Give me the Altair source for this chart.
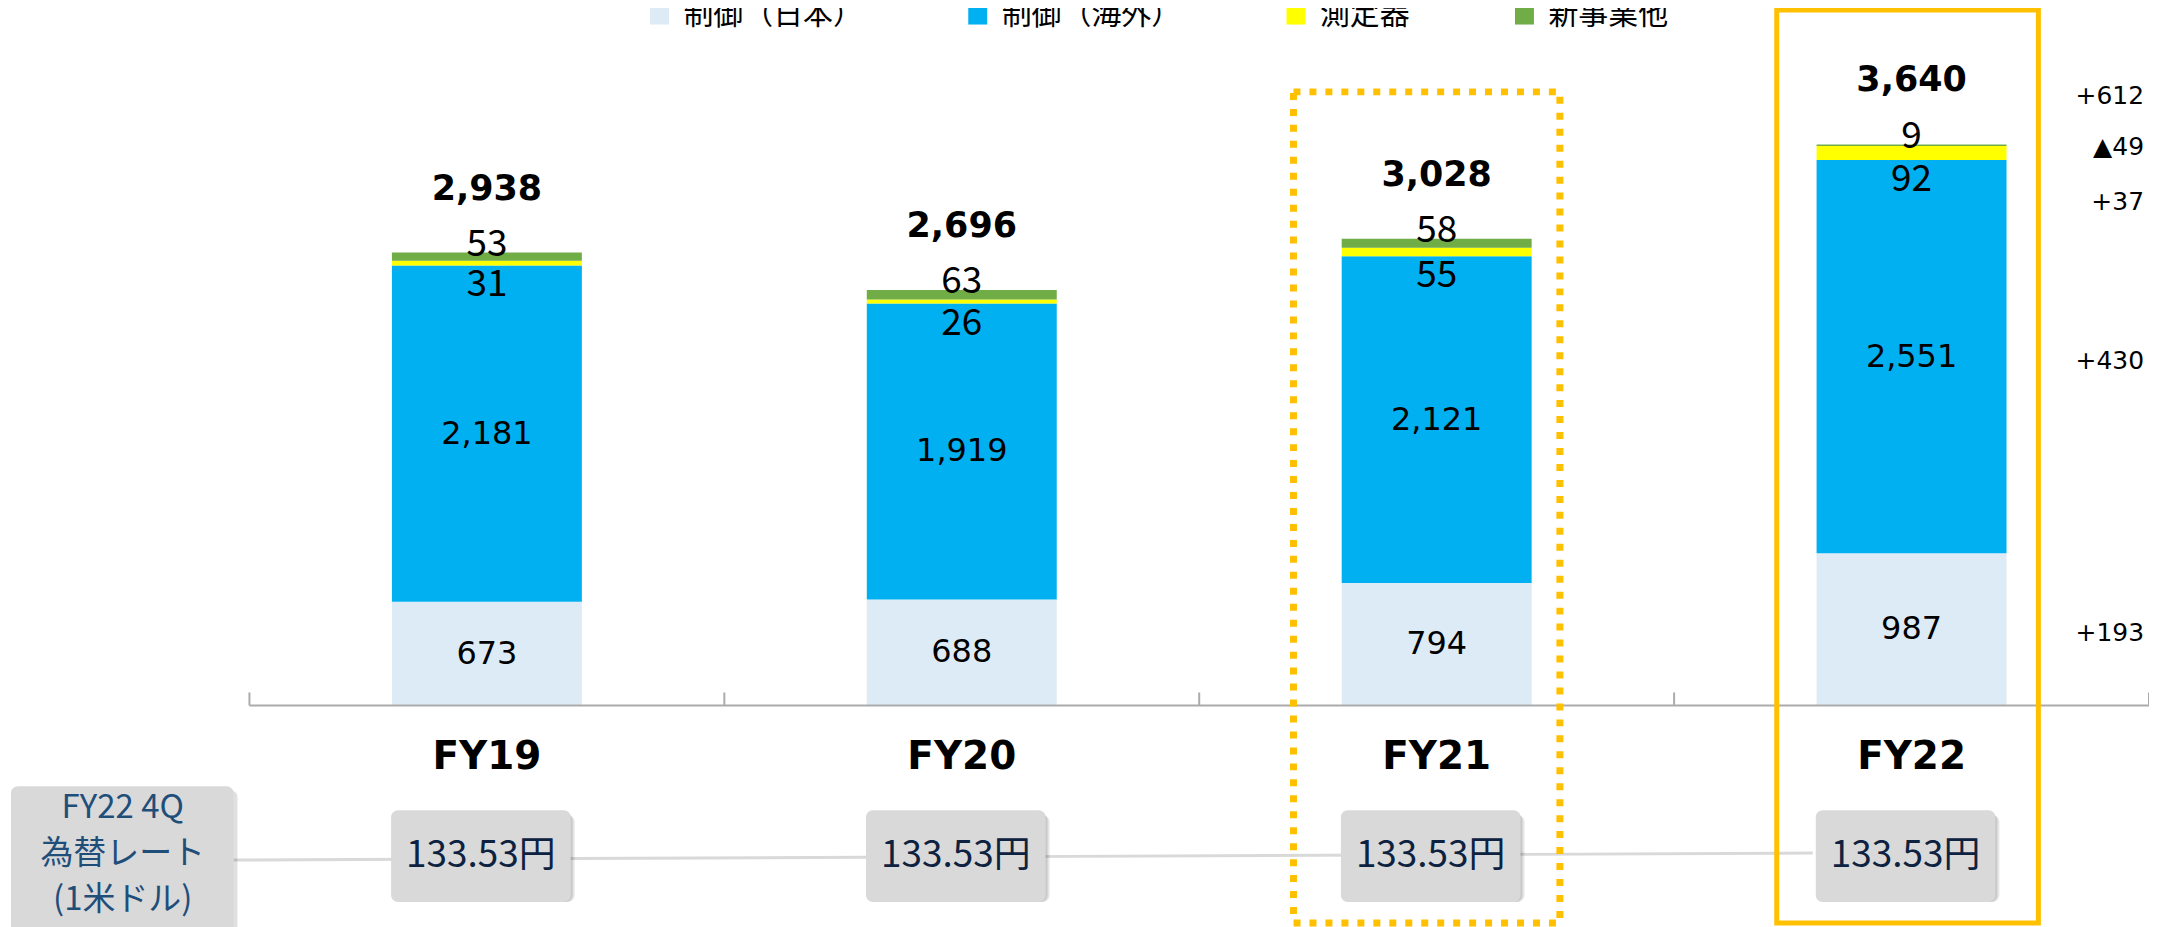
import altair as alt
import pandas as pd

# ---------------- data ----------------
years = ["FY19", "FY20", "FY21", "FY22"]
categories = ["制御（日本）", "制御（海外）", "測定器", "新事業他"]
colors = ["#DDEBF7", "#00B0F0", "#FFFF00", "#70AD47"]
ctrl_japan = [673, 688, 794, 987]
ctrl_overseas = [2181, 1919, 2121, 2551]
instruments = [31, 26, 55, 92]
new_business = [53, 63, 58, 9]
totals = [2938, 2696, 3028, 3640]
delta_labels = ["+193", "+430", "+37", "▲49", "+612"]   # 日本, 海外, 測定器, 新事業他, 合計
fx_rates = ["133.53円", "133.53円", "133.53円", "133.53円"]
fx_title = ["FY22 4Q", "為替レート", "(1米ドル)"]
highlight_years = ["FY21", "FY22"]

# ---------------- tables ----------------
series = [ctrl_japan, ctrl_overseas, instruments, new_business]
rows = []
for i, yr in enumerate(years):
    base = 0
    for j, cat in enumerate(categories):
        v = series[j][i]
        rows.append({"year": yr, "cat": cat, "idx": j, "value": v,
                     "y0": base, "y1": base + v, "mid": base + v / 2,
                     "label": f"{v:,}"})
        base += v
df = pd.DataFrame(rows)
tot_df = pd.DataFrame({"year": years, "total": totals,
                       "label": [f"{t:,}" for t in totals]})
yr_df = pd.DataFrame({"year": years, "fx": fx_rates})

last = df[df.year == "FY22"].reset_index(drop=True)
delta_df = pd.DataFrame({
    "year": ["FY22"] * 5,
    "kind": ["mid", "mid", "instr", "newb", "total"],
    "y": [last.mid[0], last.mid[1], last.y0[2], last.y1[3], totals[3]],
    "label": delta_labels,
})
hl_df = pd.DataFrame({"year": highlight_years})
one = pd.DataFrame({"a": [0]})

W, H = 1904, 618
xs = alt.Scale(type="band", domain=years, paddingInner=0, paddingOuter=0)
ys = alt.Scale(domain=[0, 4000], nice=False, zero=True)
X = alt.X("year:N", scale=xs, axis=None)

FONT_V = "DejaVu Sans"
FONT_J = "Noto Sans CJK JP"

# ---------------- bottom FX row ----------------
conn = alt.Chart(one).mark_rule(color="#D9D9D9", strokeWidth=3).encode(
    x=alt.value(-16), x2=alt.value(1567), y=alt.value(773), y2=alt.value(766))

left_shadow = alt.Chart(one).mark_rect(cornerRadius=7, color="#000000", opacity=0.12).encode(
    x=alt.value(-236), x2=alt.value(-12), y=alt.value(703), y2=alt.value(870))
left_box = alt.Chart(one).mark_rect(cornerRadius=7, color="#D9D9D9").encode(
    x=alt.value(-239), x2=alt.value(-16), y=alt.value(699), y2=alt.value(870))
left_text = alt.Chart(one).mark_text(font=FONT_J, fontSize=33, color="#1F4E79",
                                     lineHeight=46, baseline="middle").encode(
    x=alt.value(-127), y=alt.value(721), text=alt.value(fx_title))

box_sh1 = alt.Chart(yr_df).mark_bar(width=180, cornerRadius=7, color="#000000",
                                    opacity=0.10, xOffset=-2, yOffset=5).encode(
    x=X, y=alt.value(723), y2=alt.value(815))
box_sh2 = alt.Chart(yr_df).mark_bar(width=180, cornerRadius=7, color="#000000",
                                    opacity=0.12, xOffset=-4, yOffset=3).encode(
    x=X, y=alt.value(723), y2=alt.value(815))
boxes = alt.Chart(yr_df).mark_bar(width=180, cornerRadius=7, color="#D9D9D9",
                                  xOffset=-6).encode(
    x=X, y=alt.value(723), y2=alt.value(815))
box_text = alt.Chart(yr_df).mark_text(font=FONT_J, fontSize=37, color="#0D2240",
                                      baseline="middle", xOffset=-6).encode(
    x=X, y=alt.value(769), text="fx:N")

# ---------------- bars ----------------
bars = alt.Chart(df).mark_bar(width=alt.RelativeBandSize(0.4)).encode(
    x=X,
    y=alt.Y("y0:Q", scale=ys, axis=None),
    y2="y1:Q",
    color=alt.Color("cat:N", scale=alt.Scale(domain=categories, range=colors),
                    legend=alt.Legend(orient="none", legendX=396, legendY=-89,
                                      direction="horizontal", title=None,
                                      symbolType="square", symbolSize=361,
                                      symbolStrokeWidth=0,
                                      labelFont=FONT_J, labelFontSize=30,
                                      labelColor="#000000", labelOffset=9,
                                      columnPadding=100, padding=0,
                                      labelLimit=400)),
)

big_lbl = alt.Chart(df).transform_filter(
    alt.FieldOneOfPredicate(field="cat", oneOf=categories[:2])
).mark_text(font=FONT_V, fontSize=32, color="#000000", baseline="middle").encode(
    x=X, y=alt.Y("mid:Q", scale=ys), text="label:N")

instr_lbl = alt.Chart(df).transform_filter(
    alt.FieldEqualPredicate(field="cat", equal=categories[2])
).mark_text(font=FONT_J, fontSize=37, color="#000000", baseline="middle", dy=20).encode(
    x=X, y=alt.Y("y0:Q", scale=ys), text="label:N")

newb_lbl = alt.Chart(df).transform_filter(
    alt.FieldEqualPredicate(field="cat", equal=categories[3])
).mark_text(font=FONT_J, fontSize=37, color="#000000", baseline="middle", dy=-8).encode(
    x=X, y=alt.Y("y1:Q", scale=ys), text="label:N")

tot_lbl = alt.Chart(tot_df).mark_text(font=FONT_V, fontSize=35, fontWeight="bold",
                                      color="#000000", baseline="middle", dy=-64).encode(
    x=X, y=alt.Y("total:Q", scale=ys), text="label:N")

# ---------------- deltas (FY22 vs FY21) ----------------
def delta_layer(kind, dy):
    return alt.Chart(delta_df).transform_filter(
        alt.FieldEqualPredicate(field="kind", equal=kind)
    ).mark_text(font=FONT_V, fontSize=25, color="#000000", align="right",
                baseline="middle", dx=233, dy=dy).encode(
        x=X, y=alt.Y("y:Q", scale=ys), text="label:N")

deltas = [delta_layer("mid", 4), delta_layer("instr", 42),
          delta_layer("newb", 2), delta_layer("total", -48)]

# ---------------- axis ----------------
axis_line = alt.Chart(one).mark_rule(color="#ABABAB", strokeWidth=2).encode(
    x=alt.value(0), x2=alt.value(W), y=alt.value(H), y2=alt.value(H))
ticks = alt.Chart(yr_df).mark_rule(color="#ABABAB", strokeWidth=2).encode(
    x=alt.X("year:N", scale=xs, axis=None, bandPosition=0),
    y=alt.value(H), y2=alt.value(H - 13))
end_tick = alt.Chart(one).mark_rule(color="#ABABAB", strokeWidth=2).encode(
    x=alt.value(W), y=alt.value(H), y2=alt.value(H - 13))
x_lbl = alt.Chart(yr_df).mark_text(font=FONT_V, fontSize=39, fontWeight="bold",
                                   color="#000000", baseline="middle").encode(
    x=X, y=alt.value(H + 52), text="year:N")

# ---------------- highlight frames ----------------
frame21 = alt.Chart(hl_df).transform_filter(
    alt.FieldEqualPredicate(field="year", equal="FY21")
).mark_bar(filled=False, stroke="#FFC000", strokeWidth=7, strokeDash=[7, 9],
           width=alt.RelativeBandSize(0.561), xOffset=-10).encode(
    x=X, y=alt.value(3), y2=alt.value(836))
frame22 = alt.Chart(hl_df).transform_filter(
    alt.FieldEqualPredicate(field="year", equal="FY22")
).mark_bar(filled=False, stroke="#FFC000", strokeWidth=5,
           width=alt.RelativeBandSize(0.551), xOffset=-4).encode(
    x=X, y=alt.value(-79), y2=alt.value(836))

chart = alt.layer(
    conn, left_shadow, left_box, left_text,
    box_sh1, box_sh2, boxes, box_text,
    bars, big_lbl, instr_lbl, newb_lbl, tot_lbl, *deltas,
    axis_line, ticks, end_tick, x_lbl,
    frame21, frame22,
).properties(
    width=W, height=H,
    background="white",
    autosize=alt.AutoSizeParams(type="none"),
    padding={"left": 242, "top": 80, "right": 0, "bottom": 221},
).configure_view(stroke=None, strokeWidth=0)

chart.save("out.html", embed_options={"renderer": "svg", "actions": False})
